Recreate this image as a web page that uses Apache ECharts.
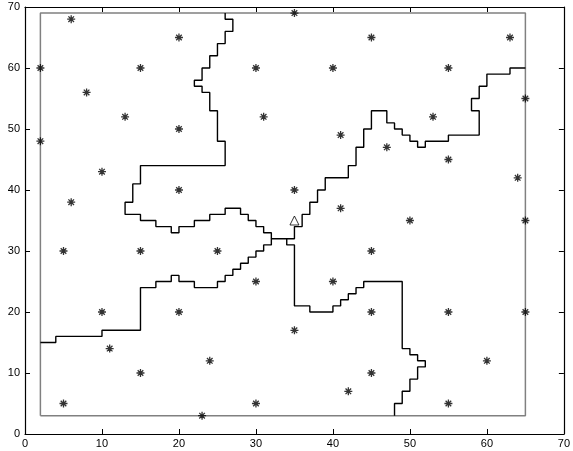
<!DOCTYPE html>
<html>
<head>
<meta charset="utf-8">
<script src="https://cdn.jsdelivr.net/npm/echarts@6/dist/echarts.min.js"></script>
<style>html,body{margin:0;padding:0;background:#fff;}#c{width:573px;height:451px;}</style>
</head>
<body>
<div id="c"></div>
<script>
// Axis ticks
var xTicks = [0, 10, 20, 30, 40, 50, 60, 70];
var yTicks = [0, 10, 20, 30, 40, 50, 60, 70];

// Sample points (asterisks)
var pointsX = [6, 35, 20, 45, 63, 2, 15, 30, 40, 55, 8, 65, 13, 31, 53, 20, 41, 2, 47, 55, 10, 64, 20, 35, 6, 41, 50, 65, 5, 15, 25, 45, 30, 40, 10, 20, 45, 55, 65, 35, 11, 24, 60, 15, 45, 42, 5, 30, 55, 23];
var pointsY = [68, 69, 65, 65, 65, 60, 60, 60, 60, 60, 56, 55, 52, 52, 52, 50, 49, 48, 47, 45, 43, 42, 40, 40, 38, 37, 35, 35, 30, 30, 30, 30, 25, 25, 20, 20, 20, 20, 20, 17, 14, 12, 12, 10, 10, 7, 5, 5, 5, 3];

// Query point (triangle)
var queryPoint = [35, 35];

// Domain rectangle
var boxX = [2, 65, 65, 2, 2];
var boxY = [3, 3, 69, 69, 3];

// Boundary 1: top -> centre -> right
var b1X = [26, 26, 27, 27, 26, 26, 25, 25, 24, 24, 23, 23, 22, 22, 23, 23, 24, 24, 25, 25, 26, 26, 15, 15, 14, 14, 13, 13, 15, 15, 17, 17, 19, 19, 20, 20, 22, 22, 24, 24, 26, 26, 28, 28, 29, 29, 30, 30, 31, 31, 32, 32, 35, 35, 36, 36, 37, 37, 38, 38, 39, 39, 42, 42, 43, 43, 44, 44, 45, 45, 47, 47, 48, 48, 49, 49, 50, 50, 51, 51, 52, 52, 55, 55, 59, 59, 58, 58, 59, 59, 60, 60, 63, 63, 65];
var b1Y = [69, 68, 68, 66, 66, 64, 64, 62, 62, 60, 60, 58, 58, 57, 57, 56, 56, 53, 53, 48, 48, 44, 44, 41, 41, 38, 38, 36, 36, 35, 35, 34, 34, 33, 33, 34, 34, 35, 35, 36, 36, 37, 37, 36, 36, 35, 35, 34, 34, 33, 33, 32, 32, 34, 34, 36, 36, 38, 38, 40, 40, 42, 42, 44, 44, 47, 47, 50, 50, 53, 53, 51, 51, 50, 50, 49, 49, 48, 48, 47, 47, 48, 48, 49, 49, 53, 53, 55, 55, 57, 57, 59, 59, 60, 60];

// Boundary 2: left -> centre
var b2X = [2, 4, 4, 10, 10, 15, 15, 17, 17, 19, 19, 20, 20, 22, 22, 25, 25, 26, 26, 27, 27, 28, 28, 29, 29, 30, 30, 31, 31, 32, 32];
var b2Y = [15, 15, 16, 16, 17, 17, 24, 24, 25, 25, 26, 26, 25, 25, 24, 24, 25, 25, 26, 26, 27, 27, 28, 28, 29, 29, 30, 30, 31, 31, 32];

// Boundary 3: centre -> bottom
var b3X = [34, 34, 35, 35, 37, 37, 40, 40, 41, 41, 42, 42, 43, 43, 44, 44, 49, 49, 50, 50, 51, 51, 52, 52, 51, 51, 50, 50, 49, 49, 48, 48];
var b3Y = [32, 31, 31, 21, 21, 20, 20, 21, 21, 22, 22, 23, 23, 24, 24, 25, 25, 14, 14, 13, 13, 12, 12, 11, 11, 9, 9, 7, 7, 5, 5, 3];

function zip(a, b) { return a.map(function (v, i) { return [v, b[i]]; }); }

var asterisk = 'path://M0,-5L0,5M-5,0L5,0M-3.5,-3.5L3.5,3.5M-3.5,3.5L3.5,-3.5';
var font = 'Liberation Sans, Arial, Helvetica, sans-serif';

function boundary(xs, ys) {
  return {
    type: 'line', data: zip(xs, ys), showSymbol: false, symbol: 'none',
    lineStyle: { color: '#000', width: 1.4 }, silent: true, z: 3
  };
}

function axisBase(pos, showLabel) {
  return {
    type: 'value', min: 0, max: 70, interval: 10, position: pos,
    axisLine: { show: true, onZero: false, lineStyle: { color: '#000', width: 1.2 } },
    axisTick: { show: true, inside: true, length: 5, lineStyle: { color: '#000', width: 1 } },
    axisLabel: { show: showLabel, color: '#000', fontSize: 11, fontFamily: font, margin: 5 },
    splitLine: { show: false }
  };
}

var chart = echarts.init(document.getElementById('c'));
var xa0 = axisBase('bottom', true);
var xa1 = axisBase('top', false);
var ya0 = axisBase('left', true);
var ya1 = axisBase('right', false);
xa0.axisLabel.margin = 4;
chart.setOption({
  animation: false,
  backgroundColor: '#fff',
  grid: { left: 25, right: 7, top: 7, bottom: 17, containLabel: false },
  xAxis: [xa0, xa1],
  yAxis: [ya0, ya1],
  series: [
    {
      type: 'line', data: zip(boxX, boxY), showSymbol: false, symbol: 'none',
      lineStyle: { color: '#808080', width: 1.5 }, silent: true, z: 2
    },
    boundary(b1X, b1Y),
    boundary(b2X, b2Y),
    boundary(b3X, b3Y),
    {
      type: 'scatter', data: zip(pointsX, pointsY), symbol: asterisk, symbolSize: 8,
      itemStyle: { color: 'transparent', borderColor: '#000', borderWidth: 1.3 }, z: 4
    },
    {
      type: 'scatter', data: [queryPoint], symbol: 'triangle', symbolSize: 9,
      itemStyle: { color: 'transparent', borderColor: '#000', borderWidth: 1 }, z: 4
    }
  ]
});
</script>
</body>
</html>
